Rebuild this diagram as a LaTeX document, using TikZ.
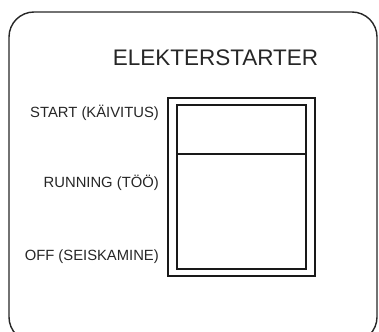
\documentclass[tikz,border=0pt]{standalone}
\usepackage{fontspec}
\setmainfont{Liberation Sans}
\begin{document}
\begin{tikzpicture}[x=1pt,y=-1pt,
  panel/.style={draw=black!85,line width=1.4pt,rounded corners=25pt},
  swbox/.style={draw=black!90,line width=2pt},
  lbl/.style={anchor=east,inner sep=0pt,font=\fontsize{14.8}{16}\selectfont,text=black!85},
  ttl/.style={inner sep=0pt,font=\fontsize{22.5}{24}\selectfont,text=black!85}]
\useasboundingbox (0,0) rectangle (379,331);
\clip (0,0) rectangle (379,331);
\draw[panel] (9,12) rectangle (377,342);
\node[ttl] (title) at (215.5,58) {ELEKTERSTARTER};
\node[swbox,minimum width=147pt,minimum height=178pt,inner sep=0pt] (outer) at (241.5,187) {};
\node[swbox,minimum width=129pt,minimum height=164pt,inner sep=0pt] (inner) at (241.5,187) {};
\coordinate (dl) at (177,154);
\coordinate (dr) at (306,154);
\draw[swbox] (dl) -- (dr);
\node[lbl] (start) at (159,113) {START (KÄIVITUS)};
\node[lbl] (run) at (159,183) {RUNNING (TÖÖ)};
\node[lbl] (off) at (159,257) {OFF (SEISKAMINE)};
\end{tikzpicture}
\end{document}
